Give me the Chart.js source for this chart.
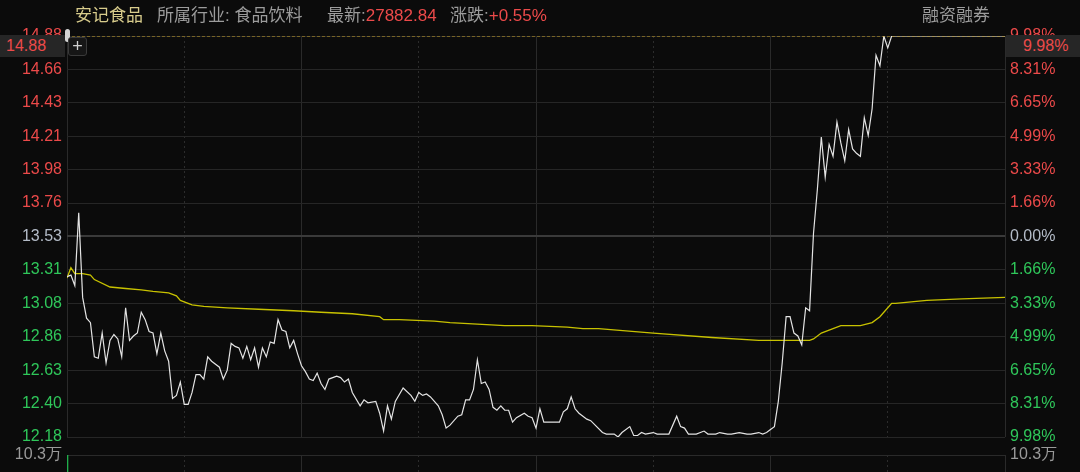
<!DOCTYPE html>
<html>
<head>
<meta charset="utf-8">
<title>安记食品 分时图</title>
<style>
  html, body { margin: 0; padding: 0; background: #0b0b0b; overflow: hidden; }
  body { width: 1080px; height: 472px; position: relative; font-family: "Liberation Sans", "Noto Sans CJK SC", sans-serif; }
  canvas { position: absolute; left: 0; }
  #main { top: 0; }
  #vol { top: 440px; }
  .txt { position: absolute; white-space: nowrap; font-size: 16px; line-height: 20px; color: #9c9c9c; }
  .red { color: #ec4a4a; }
  .hl { position: absolute; background: #262626; font-size: 16px; line-height: 22px; color: #ec4a4a; }
  /* 左上角的小控件 */
  .pill { position: absolute; left: 65px; top: 29px; width: 5px; height: 13px; border-radius: 3px; background: #d4d4d4; }
  .plus { position: absolute; left: 68px; top: 37px; width: 17px; height: 17px; border: 1px solid #3a3a3a; border-radius: 3px; background: #161616;
          color: #cfcfcf; font-size: 18px; line-height: 16px; text-align: center; }
</style>
</head>
<body>
  <canvas id="main" width="1080" height="472"></canvas>
  <canvas id="vol" width="1080" height="100"></canvas>

  <div class="txt" style="left:75px; top:6px; color:#d8cc8c; font-size:17px;">安记食品</div>
  <div class="txt" style="left:157px; top:6px; font-size:17px;">所属行业: 食品饮料</div>
  <div class="txt" style="left:327px; top:6px; font-size:17px;">最新:<span class="red">27882.84</span></div>
  <div class="txt" style="left:450px; top:6px; font-size:17px;">涨跌:<span class="red">+0.55%</span></div>
  <div class="txt" style="left:922px; top:6px; font-size:17px;">融资融券</div>

  <div class="hl" style="left:0; top:35px; width:65px; height:22px; padding-left:6px; box-sizing:border-box;">14.88</div>
  <div class="hl" style="left:1006px; top:35px; width:74px; height:22px; padding-left:17px; box-sizing:border-box;">9.98%</div>
  <div class="pill"></div>
  <div class="plus">+</div>

  <script src="https://cdn.jsdelivr.net/npm/chart.js"></script>
  <script>
    // 昨收、涨停、跌停
    const prevClose = 13.53;
    const limitUp = 14.88;
    const limitDown = 12.18;

    // 坐标轴标签（从上到下）
    const leftTicks = ['14.88', '14.66', '14.43', '14.21', '13.98', '13.76', '13.53', '13.31', '13.08', '12.86', '12.63', '12.40', '12.18'];
    const rightTicks = ['9.98%', '8.31%', '6.65%', '4.99%', '3.33%', '1.66%', '0.00%', '1.66%', '3.33%', '4.99%', '6.65%', '8.31%', '9.98%'];
    const timeTicks = [0, 30, 60, 90, 120, 150, 180, 210, 240];

    // 分时价格（分钟序号, 价格）
    const priceMin = [0, 1, 2, 3, 4, 5, 6, 7, 8, 9, 10, 11, 12, 13, 14, 15, 16, 17, 18, 19, 20, 21, 22, 23, 24, 25, 26, 27, 28, 29,
      30, 31, 32, 33, 34, 35, 36, 37, 39, 40, 41, 42, 43, 44, 45, 46, 47, 48, 49, 50, 51, 52, 53, 54, 55, 56, 57, 58, 59,
      60, 61, 62, 63, 64, 65, 66, 67, 69, 70, 71, 72, 73, 75, 76, 77, 79, 80, 81, 82, 83, 84, 86, 88, 89,
      90, 91, 92, 93, 95, 96, 97, 98, 100, 101, 102, 103, 104, 105, 106, 107, 108, 109, 110, 111, 112, 113, 114, 115, 117, 118, 119,
      120, 121, 122, 126, 127, 128, 129, 130, 131, 133, 134, 137, 138, 140, 141, 142, 144, 145, 146, 147, 148,
      150, 151, 154, 156, 157, 158, 159, 161, 163, 164, 166, 167, 169, 170, 172, 174, 175, 177, 178, 179,
      180, 181, 182, 183, 184, 185, 186, 187, 188, 189, 190, 191, 192, 193, 194, 195, 196, 197, 198, 199,
      200, 201, 202, 203, 204, 205, 206, 207, 208, 209, 210, 211, 240];
    const priceVal = [13.26, 13.27, 13.20, 13.69, 13.12, 12.98, 12.95, 12.72, 12.71, 12.88, 12.68, 12.83, 12.87, 12.84, 12.72, 13.05, 12.83, 12.86, 12.88, 13.02, 12.97, 12.89, 12.88, 12.74, 12.88, 12.76, 12.69, 12.44, 12.46, 12.55,
      12.40, 12.40, 12.48, 12.60, 12.60, 12.57, 12.72, 12.69, 12.65, 12.57, 12.63, 12.81, 12.79, 12.78, 12.71, 12.79, 12.70, 12.78, 12.65, 12.78, 12.72, 12.82, 12.81, 12.97, 12.90, 12.89, 12.78, 12.83, 12.74,
      12.66, 12.62, 12.57, 12.56, 12.61, 12.54, 12.50, 12.57, 12.59, 12.58, 12.55, 12.57, 12.48, 12.39, 12.43, 12.41, 12.42, 12.34, 12.22, 12.39, 12.30, 12.42, 12.51, 12.46, 12.42,
      12.48, 12.46, 12.47, 12.45, 12.39, 12.33, 12.24, 12.26, 12.32, 12.33, 12.43, 12.43, 12.50, 12.70, 12.54, 12.55, 12.50, 12.38, 12.36, 12.39, 12.36, 12.36, 12.28, 12.31, 12.34, 12.32, 12.31,
      12.24, 12.37, 12.28, 12.28, 12.35, 12.37, 12.45, 12.37, 12.34, 12.30, 12.29, 12.21, 12.20, 12.20, 12.18, 12.21, 12.25, 12.19, 12.19, 12.21, 12.20,
      12.21, 12.20, 12.20, 12.32, 12.25, 12.24, 12.20, 12.20, 12.22, 12.20, 12.20, 12.21, 12.20, 12.20, 12.21, 12.20, 12.20, 12.21, 12.20, 12.21,
      12.23, 12.25, 12.42, 12.68, 12.99, 12.99, 12.88, 12.86, 12.80, 13.05, 13.03, 13.55, 13.85, 14.20, 13.93, 14.15, 14.07, 14.30, 14.16, 14.04,
      14.25, 14.12, 14.09, 14.07, 14.33, 14.21, 14.39, 14.75, 14.68, 14.88, 14.80, 14.88, 14.88];

    // 均价线
    const avgMin = [0, 1, 2, 4, 6, 7, 11, 15, 19, 22, 26, 28, 29, 32, 35, 41, 49, 58, 65, 73, 80, 81, 85, 94, 98, 105, 112, 119, 128, 132, 136,
      150, 165, 177, 190, 191, 193, 198, 203, 206, 208, 209, 211, 212, 220, 229, 240];
    const avgVal = [13.25, 13.32, 13.28, 13.28, 13.27, 13.24, 13.19, 13.18, 13.17, 13.16, 13.15, 13.13, 13.10, 13.07, 13.06, 13.05, 13.04, 13.03, 13.02, 13.01, 12.99, 12.97, 12.97, 12.96, 12.95, 12.94, 12.93, 12.93, 12.92, 12.91, 12.91,
      12.88, 12.85, 12.83, 12.83, 12.84, 12.88, 12.93, 12.93, 12.95, 12.99, 13.02, 13.08, 13.08, 13.10, 13.11, 13.12];

    // 成交量（万手），只看得见开盘那一根
    const volMin = [0];
    const volVal = [10.3];
    const volMax = 10.3;

    const RED = '#ec4a4a', GREEN = '#2fc75a', NEUTRAL = '#b4bcc8';
    const tickColor = i => (i < 6 ? RED : (i === 6 ? NEUTRAL : GREEN));
    const axisFont = { family: 'Liberation Sans', size: 16 };

    const pts = (xs, ys) => xs.map((x, i) => ({ x: x, y: ys[i] }));

    const yTickValues = leftTicks.map((t, i) => limitDown + (limitUp - limitDown) * i / (leftTicks.length - 1));

    // x轴：整点实线，半点虚线
    const xAxis = () => ({
      type: 'linear', min: 0, max: 240, offset: false,
      afterBuildTicks: s => { s.ticks = timeTicks.map(v => ({ value: v })); },
      afterFit: s => { s.height = 0; },
      ticks: { display: false },
      grid: {
        offset: false,
        drawTicks: false,
        color: ctx => (ctx.index % 2 ? '#2c2c2c' : '#2a2a2a'),
        borderDash: ctx => (ctx.index % 2 ? [2, 3] : [])
      },
      border: { display: false, dash: ctx => (ctx.index % 2 ? [2, 3] : []) }
    });

    new Chart(document.getElementById('main'), {
      type: 'line',
      data: {
        datasets: [
          { label: '涨停', data: [{ x: 0, y: limitUp }, { x: 240, y: limitUp }], borderColor: '#c9a227', borderWidth: 1, borderDash: [3, 2], pointRadius: 0, order: 0 },
          { label: '价格', data: pts(priceMin, priceVal), borderColor: '#e4e4e4', borderWidth: 1.2, pointRadius: 0, order: 1 },
          { label: '均价', data: pts(avgMin, avgVal), borderColor: '#c8c200', borderWidth: 1.3, pointRadius: 0, order: 2 }
        ]
      },
      options: {
        responsive: false,
        animation: false,
        layout: { padding: { top: 36, bottom: 35, left: 0, right: 0 } },
        plugins: { legend: { display: false }, tooltip: { enabled: false } },
        scales: {
          x: xAxis(),
          y: {
            position: 'left', min: limitDown, max: limitUp,
            afterBuildTicks: s => { s.ticks = yTickValues.map(v => ({ value: v })); },
            afterFit: s => { s.width = 67; },
            ticks: {
              padding: 5, font: axisFont,
              callback: (v, i) => leftTicks[leftTicks.length - 1 - i],
              color: ctx => tickColor(leftTicks.length - 1 - ctx.index)
            },
            grid: {
              drawTicks: false,
              color: ctx => (ctx.index === 6 ? '#3a3a3a' : '#262626'),
              lineWidth: ctx => (ctx.index === 6 ? 2 : 1)
            },
            border: { display: false }
          },
          y2: {
            position: 'right', min: limitDown, max: limitUp,
            afterBuildTicks: s => { s.ticks = yTickValues.map(v => ({ value: v })); },
            afterFit: s => { s.width = 75; },
            ticks: {
              padding: 5, font: axisFont,
              callback: (v, i) => rightTicks[rightTicks.length - 1 - i],
              color: ctx => tickColor(rightTicks.length - 1 - ctx.index)
            },
            grid: { drawOnChartArea: false, drawTicks: false },
            border: { display: false }
          }
        }
      }
    });

    // 成交量区域
    new Chart(document.getElementById('vol'), {
      type: 'bar',
      data: {
        datasets: [{ label: '成交量', data: pts(volMin, volVal), backgroundColor: '#1fae4a', barThickness: 2 }]
      },
      options: {
        responsive: false,
        animation: false,
        layout: { padding: { top: 15, bottom: 0 } },
        plugins: { legend: { display: false }, tooltip: { enabled: false } },
        scales: {
          x: xAxis(),
          y: {
            position: 'left', min: 0, max: volMax,
            afterBuildTicks: s => { s.ticks = [{ value: volMax }]; },
            afterFit: s => { s.width = 67; },
            ticks: { padding: 5, font: axisFont, color: '#9a9a9a', callback: v => volMax + '万' },
            grid: { drawTicks: false, color: '#2a2a2a' },
            border: { display: false }
          },
          y2: {
            position: 'right', min: 0, max: volMax,
            afterBuildTicks: s => { s.ticks = [{ value: volMax }]; },
            afterFit: s => { s.width = 75; },
            ticks: { padding: 5, font: axisFont, color: '#9a9a9a', callback: v => volMax + '万' },
            grid: { drawOnChartArea: false, drawTicks: false },
            border: { display: false }
          }
        }
      }
    });
  </script>
</body>
</html>
